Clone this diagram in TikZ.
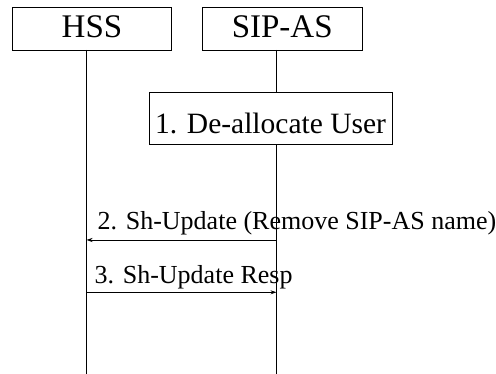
\documentclass[tikz,border=0pt]{standalone}
\usepackage{fontspec}
\setmainfont{Liberation Serif}
\usetikzlibrary{arrows.meta}
\begin{document}
\begin{tikzpicture}[x=1pt,y=1pt,
  entity/.style={draw, line width=0.8pt, minimum width=159.5pt, minimum height=43pt, inner sep=0pt,
    text height=18.4pt, text depth=0pt, font=\fontsize{33}{36}\selectfont},
  actionbox/.style={draw, line width=0.8pt, minimum width=243pt, minimum height=52pt, inner sep=0pt,
    text height=32pt, text depth=0pt, font=\fontsize{29.5}{32}\selectfont},
  lifeline/.style={line width=0.8pt},
  msg/.style={line width=0.8pt, -{Stealth[length=6pt,width=4pt]}},
  msglabel/.style={font=\fontsize{26}{28}\selectfont, anchor=base west, inner sep=0pt}]
\useasboundingbox (0,0) rectangle (496,374);
% participants
\node[entity] (hss) at (92,345.5) {HSS};
\node[entity] (sip) at (282.2,345.5) {SIP-AS};
\coordinate (hssTop) at (86.5,324);
\coordinate (sipTop) at (276.5,324);
\coordinate (hssEnd) at (86.5,0);
\coordinate (sipEnd) at (276.5,0);
% local action on the SIP-AS lifeline
\node[actionbox] (dealloc) at (270.5,256) {1. De-allocate User};
\draw[lifeline] (hssTop) -- (hssEnd);
\draw[lifeline] (sipTop) -- (dealloc.north -| sipTop);
\draw[lifeline] (dealloc.south -| sipTop) -- (sipEnd);
% messages
\coordinate (m2s) at (276.5,134);
\coordinate (m2e) at (86.5,134);
\coordinate (m3s) at (86.5,81.7);
\coordinate (m3e) at (276.5,81.7);
\draw[msg] (m2s) -- (m2e);
\draw[msg] (m3s) -- (m3e);
\node[msglabel] (l2) at (97.5,144.5) {2. Sh-Update (Remove SIP-AS name)};
\node[msglabel] (l3) at (94.5,90.7) {3. Sh-Update Resp};
\end{tikzpicture}
\end{document}
